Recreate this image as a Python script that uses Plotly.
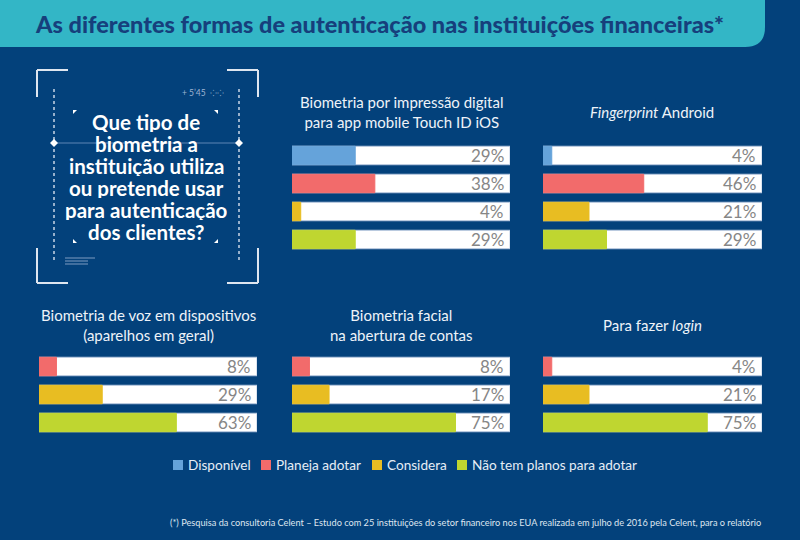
import plotly.graph_objects as go

# ---------------- data ----------------
categories = ["Disponível", "Planeja adotar", "Considera", "Não tem planos para adotar"]
category_colors = ["#65a3da", "#f26b6b", "#e8bd22", "#bfd630"]

touch_id_values = [29, 38, 4, 29]          # Disponível, Planeja, Considera, Não tem planos
android_values = [4, 46, 21, 29]
voz_values = [8, 29, 63]                   # Planeja, Considera, Não tem planos
facial_values = [8, 17, 75]
login_values = [4, 21, 75]

title_text = "As diferentes formas de autenticação nas instituições financeiras*"
question_lines = ["Que tipo de", "biometria a", "instituição utiliza", "ou pretende usar",
                  "para autenticação", "dos clientes?"]
footnote = ("(*) Pesquisa da consultoria Celent – Estudo com 25 instituições do setor financeiro "
            "nos EUA realizada em julho de 2016 pela Celent, para o relatório")

panels = [
    ("Biometria por impressão digital<br>para app mobile Touch ID iOS", touch_id_values, [0, 1, 2, 3]),
    ("<i>Fingerprint</i> Android", android_values, [0, 1, 2, 3]),
    ("Biometria de voz em dispositivos<br>(aparelhos em geral)", voz_values, [1, 2, 3]),
    ("Biometria facial<br>na abertura de contas", facial_values, [1, 2, 3]),
    ("Para fazer <i>login</i>", login_values, [1, 2, 3]),
]

# ---------------- layout helpers ----------------
W, H = 800, 540
BG = "#03417b"
FONT = "Lato"


def px(x):
    return x / W


def py(y):
    return 1 - y / H


x_domains = [(292, 510), (543, 762), (39, 257), (292, 510), (543, 762)]
y_domains = [(141.5, 253.5), (141.5, 253.5), (352.5, 436.5), (352.5, 436.5), (352.5, 436.5)]
title_pos = [(401, 112), (652, 112), (148, 325), (401, 325), (652, 325)]

fig = go.Figure()
annotations = []
shapes = []
layout_axes = {}

for i, (ptitle, vals, cats) in enumerate(panels):
    n = i + 1
    xa = "x" if n == 1 else f"x{n}"
    ya = "y" if n == 1 else f"y{n}"
    ypos = list(range(len(vals)))
    cols = [category_colors[c] for c in cats]
    fig.add_trace(go.Bar(x=[100] * len(vals), y=ypos, orientation="h", xaxis=xa, yaxis=ya,
                         marker=dict(color="white", line=dict(color="#b9c9e0", width=1)),
                         width=0.66, hoverinfo="skip", showlegend=False))
    fig.add_trace(go.Bar(x=vals, y=ypos, orientation="h", xaxis=xa, yaxis=ya,
                         marker=dict(color=cols, line=dict(color=cols, width=1)),
                         width=0.66, showlegend=False))
    for yv, v in zip(ypos, vals):
        annotations.append(dict(x=100, y=yv, xref=xa, yref=ya, text=f"{v}%", showarrow=False,
                                xanchor="right", xshift=-4,
                                font=dict(family=FONT, size=17, color="#868686")))
    xd = x_domains[i]
    yd = y_domains[i]
    key = "" if n == 1 else str(n)
    layout_axes[f"xaxis{key}"] = dict(domain=[px(xd[0]), px(xd[1])], range=[0, 100], visible=False,
                                      anchor=ya, fixedrange=True)
    layout_axes[f"yaxis{key}"] = dict(domain=[py(yd[1]), py(yd[0])], range=[len(vals) - 0.5, -0.5],
                                      visible=False, anchor=xa, fixedrange=True)
    tx, ty = title_pos[i]
    annotations.append(dict(x=px(tx), y=py(ty), xref="paper", yref="paper", text=ptitle,
                            showarrow=False, xanchor="center", yanchor="middle", align="center",
                            font=dict(family=FONT, size=15, color="#eef3f9")))

# ---------------- title banner ----------------
shapes.append(dict(type="path", xref="paper", yref="paper",
                   path=f"M 0 {py(0)} L {px(765)} {py(0)} L {px(765)} {py(27)} "
                        f"Q {px(765)} {py(47)} {px(745)} {py(47)} L 0 {py(47)} Z",
                   fillcolor="#33b6c6", line=dict(width=0), layer="below"))
annotations.append(dict(x=px(379), y=py(24), xref="paper", yref="paper", text=title_text,
                        showarrow=False, xanchor="center", yanchor="middle",
                        font=dict(family=FONT, size=23.5, color="#163f7c", weight=900)))

# ---------------- question box ----------------
line_col = "#dfe6f0"
def seg(x0, y0, x1, y1, color=line_col, width=2, dash="solid"):
    shapes.append(dict(type="line", xref="paper", yref="paper", x0=px(x0), y0=py(y0), x1=px(x1),
                       y1=py(y1), line=dict(color=color, width=width, dash=dash)))

# corner brackets
seg(37, 70, 68, 70); seg(37, 70, 37, 97)
seg(227, 70, 258, 70); seg(258, 70, 258, 97)
seg(37, 248, 37, 283); seg(37, 283, 68, 283)
seg(258, 248, 258, 283); seg(227, 283, 258, 283)
# dotted verticals
seg(54, 89, 54, 262, color="#c9d5e6", width=1.5, dash="dot")
seg(239, 89, 239, 262, color="#c9d5e6", width=1.5, dash="dot")
# horizontal line with diamonds
seg(54, 143, 239, 143, color="#5f86b5", width=1)
for dx in (54, 239):
    shapes.append(dict(type="path", xref="paper", yref="paper",
                       path=f"M {px(dx-4)} {py(143)} L {px(dx)} {py(139)} L {px(dx+4)} {py(143)} "
                            f"L {px(dx)} {py(147)} Z", fillcolor="white", line=dict(width=0)))
# small inner corner ticks
for (cx, cy, sx, sy) in [(73, 110, 1, 1), (218, 110, -1, 1), (73, 243, 1, -1), (218, 243, -1, -1)]:
    shapes.append(dict(type="path", xref="paper", yref="paper",
                       path=f"M {px(cx)} {py(cy)} L {px(cx + 4*sx)} {py(cy)} L {px(cx)} {py(cy + 4*sy)} Z",
                       fillcolor="white", line=dict(width=0)))
# small stripes bottom-left
seg(65, 258, 95, 258, color="#7f9cc2", width=1)
seg(65, 261, 88, 261, color="#7f9cc2", width=1)
seg(65, 264, 88, 264, color="#7f9cc2", width=1)
annotations.append(dict(x=px(203), y=py(93), xref="paper", yref="paper", text="+ 5’45  ⁘⁘",
                        showarrow=False, xanchor="center", yanchor="middle",
                        font=dict(family=FONT, size=8.5, color="#9fb4d2")))
for k, line in enumerate(question_lines):
    annotations.append(dict(x=px(146), y=py(122 + 22 * k), xref="paper", yref="paper",
                            text=f"<b>{line}</b>", showarrow=False, xanchor="center",
                            yanchor="middle", height=21, borderpad=0,
                            font=dict(family=FONT, size=20.5, color="white")))

# ---------------- legend ----------------
legend_sq = [173, 261, 372, 457]
for c, col, sx in zip(categories, category_colors, legend_sq):
    shapes.append(dict(type="rect", xref="paper", yref="paper", x0=px(sx), x1=px(sx + 10),
                       y0=py(470), y1=py(460), fillcolor=col, line=dict(width=0)))
    annotations.append(dict(x=px(sx + 13), y=py(465), xref="paper", yref="paper", text=c,
                            showarrow=False, xanchor="left", yanchor="middle",
                            font=dict(family=FONT, size=13.6, color="#e6edf6")))

# ---------------- footnote ----------------
annotations.append(dict(x=px(763), y=py(522), xref="paper", yref="paper", text=footnote,
                        showarrow=False, xanchor="right", yanchor="middle",
                        font=dict(family=FONT, size=9.2, color="#dfe6f0")))

fig.update_layout(
    width=W, height=H, margin=dict(l=0, r=0, t=0, b=0),
    paper_bgcolor=BG, plot_bgcolor=BG, barmode="overlay", showlegend=False,
    annotations=annotations, shapes=shapes, **layout_axes,
)

fig.write_html("out.html", config={"displayModeBar": False},
               post_script="document.body.style.margin='0';document.body.style.padding='0';")
